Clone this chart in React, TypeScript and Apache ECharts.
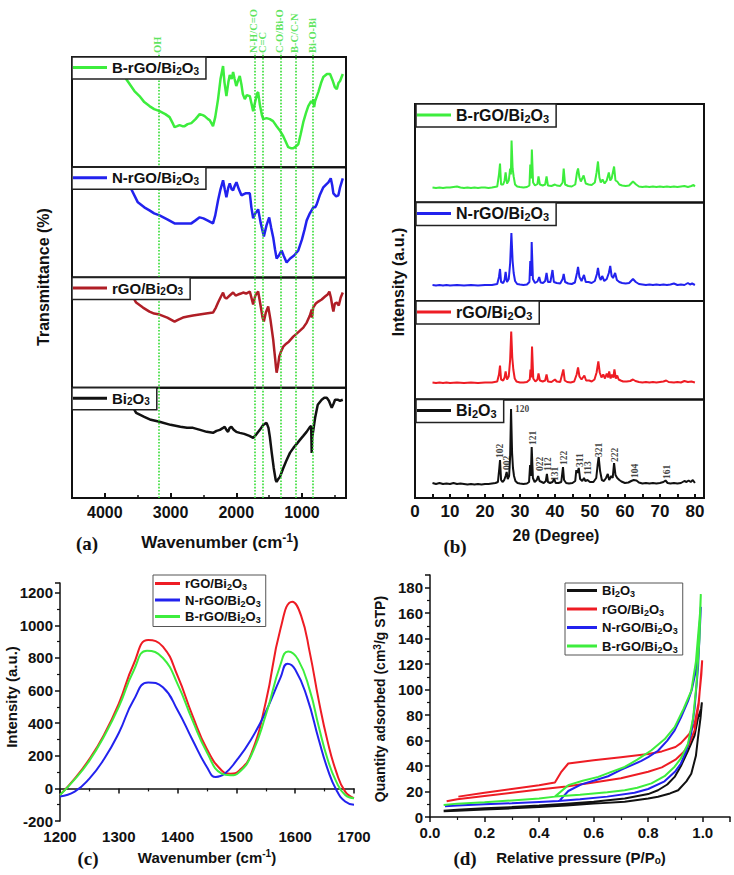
import { useEffect, useRef } from 'react';
import * as echarts from 'echarts';

// ---------------- data ----------------
// (a) FTIR — [wavenumber (cm-1), relative transmittance]
const ftirBands = [3180, 1720, 1590, 1320, 1100, 830];
const ftirBandLabels = ['OH', 'N-H/C=O', 'C=C', 'C-O/Bi-O', 'B-C/C-N', 'Bi-O-Bi'];
const ftirMajorTicks = [4000, 3000, 2000, 1000];
const ftirMinorTicks = [3500, 2500, 1500, 500];

const ftirB = [[3800,105],[3676,88],[3550,76],[3473,71],[3400,65],[3321,61],[3250,58],[3168,56],[3080,53],[3015,50],[2960,43],[2939,40],[2900,41],[2863,42],[2820,41],[2786,41],[2740,43],[2684,44],[2620,48],[2557,53],[2510,52],[2481,51],[2430,48],[2405,47],[2370,43],[2354,41],[2320,50],[2277,68],[2240,88],[2201,101],[2180,85],[2150,71],[2120,85],[2099,92],[2070,88],[2048,95],[2025,88],[2000,81],[1975,86],[1947,91],[1920,82],[1900,73],[1870,68],[1840,72],[1794,71],[1770,64],[1743,56],[1710,66],[1680,74],[1667,75],[1640,62],[1610,52],[1590,48],[1540,49],[1489,48],[1440,46],[1386,41],[1340,37],[1285,31],[1250,26],[1209,20],[1170,19],[1133,19],[1090,21],[1056,23],[1020,33],[980,45],[940,54],[904,61],[860,66],[840,64],[827,68],[815,60],[800,66],[751,75],[710,84],[675,90],[620,93],[573,93],[530,86],[500,80],[470,78],[445,84],[420,86],[379,93]];
const ftirN = [[3650,95],[3498,75],[3400,70],[3321,67],[3250,64],[3168,62],[3050,58],[2939,54],[2850,54],[2750,54],[2684,54],[2620,57],[2557,60],[2500,59],[2440,57],[2354,54],[2320,62],[2277,77],[2240,88],[2201,97],[2175,88],[2150,80],[2120,90],[2099,94],[2070,88],[2048,87],[2020,92],[1997,95],[1960,88],[1921,82],[1860,84],[1794,84],[1770,70],[1743,59],[1710,64],[1667,68],[1630,55],[1580,41],[1540,52],[1499,60],[1470,50],[1438,40],[1410,28],[1386,19],[1350,22],[1310,27],[1280,22],[1234,15],[1180,19],[1120,22],[1056,27],[1000,38],[960,48],[928,57],[880,64],[827,70],[800,70],[776,73],[730,82],[675,90],[630,93],[598,95],[562,99],[540,92],[522,84],[480,81],[446,82],[420,90],[379,99]];
const ftirR = [[3650,100],[3524,85],[3420,80],[3321,76],[3250,74],[3168,73],[3050,70],[2939,66],[2880,68],[2812,70],[2740,71],[2659,72],[2560,73],[2460,74],[2354,75],[2310,80],[2277,85],[2240,90],[2201,95],[2175,90],[2150,89],[2100,92],[2048,95],[2010,92],[1973,93],[1930,94],[1896,95],[1850,94],[1794,96],[1770,90],[1743,83],[1710,92],[1667,96],[1630,82],[1600,70],[1580,66],[1550,75],[1514,81],[1480,68],[1438,48],[1410,30],[1395,20],[1386,15],[1365,22],[1346,31],[1320,36],[1285,41],[1240,44],[1200,46],[1133,51],[1080,54],[1030,57],[980,60],[928,65],[880,72],[852,78],[848,70],[830,80],[790,84],[751,86],[700,88],[649,91],[610,93],[583,96],[560,90],[535,80],[522,76],[500,84],[470,85],[440,82],[410,90],[379,95]];
const ftirBi = [[3650,100],[3524,85],[3400,81],[3300,78],[3168,76],[3000,73],[2850,71],[2750,70],[2659,70],[2550,68],[2450,66],[2354,65],[2300,67],[2250,68],[2200,70],[2176,71],[2150,68],[2125,66],[2100,70],[2074,71],[2040,68],[2000,66],[1947,65],[1880,64],[1800,62],[1743,60],[1700,63],[1641,68],[1590,73],[1539,75],[1510,70],[1489,61],[1460,45],[1430,30],[1400,18],[1386,16],[1360,19],[1336,21],[1290,29],[1240,37],[1183,45],[1130,50],[1080,54],[1031,58],[980,62],[930,66],[878,71],[860,72],[852,45],[845,60],[827,68],[800,80],[760,93],[700,98],[660,100],[623,100],[590,97],[560,92],[547,90],[520,94],[496,98],[450,98],[420,97],[379,98]];

// (b) XRD — [2θ (degree), intensity]
const xrdB = [[5,15],[6,14.5],[7,15],[8,14.5],[9,15],[10,15],[11,15.5],[12,16],[13,15],[14,14.5],[15,15],[16,14.5],[17,15],[18,14.5],[19,15],[20,15],[21,14.5],[22,15],[23.5,16],[24.0,28],[24.3,39],[24.6,18],[25.2,18],[25.6,22],[25.9,30],[26.3,19],[26.8,22],[27.2,34],[27.4,28],[27.6,62],[27.9,34],[28.2,26],[28.6,18],[29.2,16],[30,15.5],[31,15],[32,15.5],[32.7,17],[32.95,38],[33.2,24],[33.4,53],[33.75,20],[34.3,17],[35,18.5],[35.3,26],[35.7,18],[36.5,17],[37.2,18],[37.6,26],[38,17],[39,16.5],[40,18],[40.5,17],[41.5,16.5],[42.2,20],[42.5,34],[42.9,18],[43.8,16.5],[44.8,16],[45.8,18],[46.3,30],[46.6,34],[47,25],[47.4,21],[48.2,27],[48.8,19],[49.6,18],[50.5,17.5],[51.4,20],[51.9,30],[52.3,41],[52.7,25],[53.1,20],[53.6,23],[54.2,19],[54.8,22],[55.4,30],[55.8,22],[56.2,24],[56.9,36],[57.3,22],[57.8,21],[58.4,18],[59.2,17],[60.2,16.5],[61.2,17],[62.3,21],[63.2,18],[64,16],[65,15.5],[66,16],[67,15.5],[68,16],[69,15.5],[70,16],[71,15.5],[72,16],[73,15.5],[74,16],[75,15.5],[76,16],[77,16.5],[78,15.5],[79,16.5],[79.6,17.5],[80,16]];
const xrdN = [[5,16],[6,15.5],[7,16],[8,15.5],[9,16],[10,15.5],[12,16],[14,15.5],[16,16],[18,15.5],[20,16],[22,16],[23.5,17],[24.0,24],[24.3,32],[24.6,19],[25.2,18],[25.6,21],[25.9,29],[26.3,19],[26.8,22],[27.2,38],[27.55,68],[27.9,40],[28.2,28],[28.6,20],[29.2,17],[30,16.5],[31,16],[32,16.5],[32.7,19],[32.95,40],[33.2,25],[33.35,59],[33.7,22],[34.3,18],[35,19.5],[35.5,24],[35.9,18.5],[36.6,18],[37.2,20],[37.6,28],[38,19],[38.7,19],[39.3,31],[39.7,19],[40.5,18],[41.5,17.5],[42.2,22],[42.5,27],[42.9,19],[43.8,17.5],[44.8,17],[45.7,18.5],[46.3,28],[46.6,34],[47,24],[47.6,20],[48.3,26],[48.8,19],[49.6,19],[50.5,18],[51.4,20],[52,27],[52.3,33],[52.7,24],[53.1,21],[53.5,25],[54.1,20],[54.8,22],[55.4,28],[55.8,35],[56.2,25],[56.6,23],[57.2,28],[57.7,21],[58.4,19],[59.2,18],[60.2,17.5],[61.2,18],[62.3,22],[63.1,19],[64,17],[65,16.5],[66,16],[67,16.5],[68,16],[69,16.5],[70,16],[71,16.5],[72,16],[73,16.5],[74,17.5],[75,16],[76,16.5],[77,16],[78,18],[78.6,16.5],[79.2,17.5],[80,16]];
const xrdR = [[5,17],[6,16.5],[7,17],[8,16.5],[9,17],[10,16.5],[12,17],[14,16.5],[16,17],[18,16.5],[20,17],[22,17],[23.5,18],[24.0,25],[24.3,34],[24.6,20],[25.2,19],[25.6,22],[25.9,28],[26.3,20],[26.8,23],[27.2,40],[27.5,68],[27.8,42],[28.1,30],[28.5,21],[29,18],[30,17],[31,17],[32,17.5],[32.8,20],[33.0,30],[33.2,22],[33.45,53],[33.8,21],[34.4,18],[35,20],[35.3,26],[35.7,19],[36.5,18],[37.2,19],[37.6,25],[38,18],[39,17.5],[40,20],[40.5,18],[41.5,17.5],[42.4,30],[42.8,19],[43.5,17.5],[44.5,17],[45.5,18],[46.2,25],[46.6,32],[47,23],[47.6,20],[48.4,24],[48.9,19],[49.8,19],[50.5,18],[51.3,20],[51.9,27],[52.4,38],[52.8,27],[53.3,22],[53.8,25],[54.3,21],[54.8,26],[55.2,22],[55.5,28],[55.9,21],[56.3,25],[56.7,22],[57,30],[57.4,21],[57.8,24],[58.2,20],[58.8,19],[59.5,18],[60.5,18],[61.5,18.5],[62.3,20],[63,18.5],[64,17.5],[65,17],[66,17.5],[67,17],[68,17.5],[69,17],[70,17.5],[71,18],[71.8,19],[72.5,17.5],[74,17],[75,17.5],[76,17],[77,18.5],[78,17.5],[79,18],[80,17]];
const xrdBi = [[5,15],[6,14],[7,15],[8,14],[9,14.5],[10,14],[11,15],[12,14],[13,14.5],[14,14],[15,13.5],[16,14],[17,13.5],[18,14],[19,13.5],[20,14],[21,14],[22,14.5],[23,15],[23.7,16],[24.1,30],[24.3,38],[24.6,18],[25.0,16],[25.5,18],[25.9,22],[26.2,26],[26.5,19],[26.9,22],[27.2,42],[27.45,89],[27.75,45],[28.0,30],[28.3,22],[28.7,17],[29.3,15],[30,14.5],[31,14],[32,14.5],[32.6,16],[32.9,33],[33.1,22],[33.35,51],[33.7,20],[34.2,16],[34.8,18],[35.2,22],[35.6,17],[36.2,16],[36.8,15],[37.4,17],[37.7,24],[38.0,16],[38.6,15],[39.3,16],[39.8,19],[40.2,15],[41,15],[41.8,16],[42.3,31],[42.6,18],[43.2,15],[44,14.5],[45,15],[45.8,17],[46.1,28],[46.4,25],[46.8,30],[47.2,19],[47.8,17],[48.3,20],[48.7,17],[49.3,18],[50,16],[51,16],[51.8,20],[52.2,33],[52.5,41],[52.9,27],[53.4,18],[54,17],[54.6,20],[55.1,24],[55.5,18],[56.1,22],[56.5,20],[56.9,35],[57.3,23],[57.8,20],[58.4,18],[59,16.5],[60,15],[61,15.5],[61.8,17],[62.5,18],[63.3,17.5],[64,15.5],[65,14.5],[66,15],[67,14.5],[68,15],[69,14.5],[70,15],[71,16],[71.6,17.5],[72.2,15],[73,14.5],[74,15],[75,14.5],[76,15],[77,17],[77.6,16],[78.2,17.5],[78.8,16],[79.4,18],[80,15]];
const xrdTicks = [0, 10, 20, 30, 40, 50, 60, 70, 80];
const hklLabels = ['102', '002', '120', '121', '022', '112', '131', '122', '311', '113', '321', '222', '104', '161'];
const hklTheta = [24.3, 26.4, 28.6, 33.7, 35.7, 37.9, 40.0, 42.6, 47.1, 49.5, 52.6, 57.1, 62.9, 71.9];
const hklLevel = [40, 28, 89, 53, 27, 27, 17, 33, 31, 23, 41, 36, 20, 19];

// (c) Raman — [wavenumber, intensity]
const ramanR = [[1200,-40],[1225,60],[1250,180],[1275,330],[1300,520],[1325,760],[1350,910],[1375,870],[1400,690],[1425,450],[1450,240],[1475,110],[1490,90],[1505,110],[1525,210],[1550,530],[1575,980],[1595,1145],[1610,1060],[1625,830],[1640,540],[1655,290],[1670,100],[1685,-20],[1700,-60]];
const ramanN = [[1200,-50],[1225,-20],[1250,60],[1275,180],[1300,340],[1325,540],[1350,650],[1375,620],[1400,480],[1425,300],[1450,130],[1465,70],[1480,90],[1500,170],[1525,300],[1550,470],[1575,680],[1587,765],[1600,730],[1620,560],[1640,300],[1655,120],[1670,-10],[1685,-80],[1700,-100]];
const ramanB = [[1200,-40],[1225,55],[1250,170],[1275,320],[1300,500],[1325,720],[1348,845],[1375,800],[1400,640],[1425,420],[1450,220],[1475,90],[1490,80],[1505,100],[1525,200],[1550,450],[1575,760],[1588,840],[1605,790],[1625,600],[1640,380],[1655,180],[1670,40],[1685,-40],[1700,-60]];

// (d) N2 sorption isotherms — [P/Po, quantity adsorbed], adsorption then desorption
const betBi = [[0.05,4.5],[0.1,5],[0.2,5.8],[0.3,6.8],[0.4,7.8],[0.5,9],[0.6,10.5],[0.714,12],[0.8,14.5],[0.836,15.9],[0.88,18.5],[0.91,21],[0.94,28],[0.958,34],[0.975,48],[0.983,63],[0.992,78],[0.997,90],[0.994,85],[0.983,78],[0.97,64],[0.946,52],[0.92,40],[0.897,31.5],[0.87,25.5],[0.836,21],[0.8,18],[0.714,14.6],[0.6,12],[0.5,10.5],[0.4,9],[0.3,7.8],[0.2,6.8],[0.1,5.6],[0.05,5]];
const betR = [[0.061,12.4],[0.1,14],[0.2,16.5],[0.3,19],[0.4,21.5],[0.5,24],[0.6,27],[0.7,30.5],[0.8,35.5],[0.85,39],[0.9,45],[0.93,51],[0.95,57],[0.97,68],[0.985,88],[0.995,115],[0.998,123],[0.995,112],[0.985,90],[0.97,73],[0.95,65],[0.92,58],[0.9,55],[0.85,51.5],[0.8,49.5],[0.7,47],[0.6,44.5],[0.507,42],[0.48,35],[0.458,27],[0.4,25],[0.3,22],[0.2,19],[0.104,16]];
const betN = [[0.055,8.5],[0.1,9],[0.2,10],[0.3,10.8],[0.4,11.8],[0.47,12.5],[0.55,14],[0.65,16],[0.75,19],[0.8,22],[0.86,28],[0.9,36],[0.92,42],[0.94,52],[0.958,66],[0.97,85],[0.983,118],[0.99,150],[0.993,165],[0.99,155],[0.977,117],[0.96,100],[0.946,91],[0.92,78],[0.897,68],[0.87,60],[0.836,52],[0.8,47],[0.775,44],[0.7,37],[0.653,32],[0.6,28.5],[0.555,25.6],[0.507,20.4],[0.476,13]];
const betB = [[0.05,9.4],[0.1,10.5],[0.2,11.5],[0.3,13],[0.4,14.5],[0.458,16],[0.55,17.5],[0.65,19.5],[0.714,21],[0.76,23],[0.812,26.4],[0.86,32],[0.897,39.5],[0.92,46],[0.946,57.5],[0.965,78],[0.977,104],[0.988,140],[0.993,175],[0.99,160],[0.975,122],[0.958,99],[0.93,85],[0.897,70.6],[0.86,61],[0.812,52.4],[0.76,45],[0.714,39.3],[0.66,35],[0.617,31.5],[0.56,28.5],[0.507,25],[0.458,16]];

// ---------------- styling ----------------
const SANS = '"Liberation Sans", Arial, Helvetica, sans-serif';
const SERIF = '"Liberation Serif", "Times New Roman", serif';
const INK = '#111111';
const GREEN = '#3ded3d';
const BLUE = '#2222ee';
const RED = '#ee1c24';
const DARKRED = '#b01e26';
const DOT = '#33dd33';

function chemRich(size: number, color = INK) {
  const lh = Math.round(size * 1.15);
  const sub = Math.round(size * 0.68);
  return {
    t: { fontFamily: SANS, fontWeight: 'bold', fontSize: size, color, lineHeight: lh },
    s: { fontFamily: SANS, fontWeight: 'bold', fontSize: sub, color, lineHeight: sub, verticalAlign: 'bottom' },
    u: { fontFamily: SANS, fontWeight: 'bold', fontSize: sub, color, lineHeight: sub, verticalAlign: 'top' },
  };
}
function chem(name: string) {
  return '{t|' + name.replace(/(\d)/g, '}{s|$1}{t|') + '}';
}
const shown = (n: string) => chem(n.split(':')[1]);
const plain = (v: number) => String(v);

const aLeft = 72, aWidth = 274, aTop0 = 57, aH = 110.25;
const bLeft = 415, bWidth = 289, bTop0 = 104, bH = 98.5;

export default function App() {
  const ref = useRef<HTMLDivElement>(null);
  useEffect(() => {
    if (!ref.current) return;
    const chart = echarts.init(ref.current, null, { renderer: 'svg', width: 734, height: 875 });

    const grids: any[] = [];
    const xAxes: any[] = [];
    const yAxes: any[] = [];
    const series: any[] = [];
    const legends: any[] = [];

    const hiddenX = (gi: number, min: number, max: number, inverse = false) => ({
      gridIndex: gi, type: 'value', min, max, inverse,
      axisLine: { show: false }, axisTick: { show: false }, axisLabel: { show: false }, splitLine: { show: false },
    });
    const hiddenY = (gi: number, min: number, max: number) => ({
      gridIndex: gi, type: 'value', min, max,
      axisLine: { show: false }, axisTick: { show: false }, axisLabel: { show: false }, splitLine: { show: false },
    });
    const line = (name: string, idx: number, data: any, color: string, width: number, smooth: any = false) => ({
      type: 'line', name, xAxisIndex: idx, yAxisIndex: idx, data, showSymbol: false, symbol: 'none',
      smooth, color, lineStyle: { color, width }, itemStyle: { color }, z: 3,
    });
    const boxLegend = (name: string, left: number, top: number, size: number, iw: number) => ({
      left, top, data: [name], icon: 'rect', itemWidth: iw, itemHeight: 3, itemGap: 0,
      padding: [3, 7, 3, 1], borderColor: '#222', borderWidth: 1.5, backgroundColor: '#fff',
      selectedMode: false, formatter: shown, textStyle: { rich: chemRich(size) }, z: 10,
    });

    // ---- (a) FTIR: grids 0..3 ----
    const aSeries = [
      ['a:B-rGO/Bi2O3', ftirB, GREEN],
      ['a:N-rGO/Bi2O3', ftirN, BLUE],
      ['a:rGO/Bi2O3', ftirR, DARKRED],
      ['a:Bi2O3', ftirBi, INK],
    ];
    aSeries.forEach(([name, data, color]: any, i) => {
      const top = aTop0 + i * aH;
      grids.push({ left: aLeft, top, width: aWidth, height: aH, show: true, borderColor: INK, borderWidth: 2, backgroundColor: 'transparent' });
      if (i < 3) xAxes.push(hiddenX(i, 330, 4500, true));
      else xAxes.push({
        gridIndex: i, type: 'value', min: 330, max: 4500, inverse: true,
        axisLine: { show: false }, splitLine: { show: false },
        axisTick: { show: true, inside: true, length: 5, lineStyle: { color: INK, width: 2 }, customValues: ftirMajorTicks },
        axisLabel: { show: true, customValues: ftirMajorTicks, formatter: plain, margin: 6, color: INK, fontFamily: SANS, fontWeight: 'bold', fontSize: 16 },
      });
      yAxes.push(hiddenY(i, 0, 110));
      series.push(line(name, i, data, color, 2.5));
      legends.push(boxLegend(name, aLeft, top, 15, 34));
    });

    // ---- (a) overlay grid 4: band markers ----
    grids.push({ left: aLeft, top: 53, width: aWidth, height: 498 - 53, show: false });
    xAxes.push(hiddenX(4, 330, 4500, true));
    yAxes.push(hiddenY(4, 0, 1));
    series.push({
      type: 'scatter', xAxisIndex: 4, yAxisIndex: 4, symbolSize: 0, clip: false, z: 5,
      data: ftirBands.map((w, i) => ({ value: [w, 1], name: ftirBandLabels[i] })),
      label: {
        show: true, formatter: '{b}', position: [0, 0], rotate: 90, align: 'left', verticalAlign: 'middle',
        color: DOT, fontFamily: SERIF, fontWeight: 'bold', fontSize: 10.5, offset: [0, -1],
      },
      markLine: {
        silent: true, symbol: 'none', label: { show: false },
        lineStyle: { type: 'dotted', color: DOT, width: 1.6 },
        data: ftirBands.map((w) => ({ xAxis: w })),
      },
    });

    // ---- (b) XRD: grids 5..8 ----
    const bSeries = [
      ['b:B-rGO/Bi2O3', xrdB, GREEN],
      ['b:N-rGO/Bi2O3', xrdN, BLUE],
      ['b:rGO/Bi2O3', xrdR, RED],
      ['b:Bi2O3', xrdBi, INK],
    ];
    bSeries.forEach(([name, data, color]: any, k) => {
      const gi = 5 + k;
      const top = bTop0 + k * bH;
      grids.push({ left: bLeft, top, width: bWidth, height: bH, show: true, borderColor: INK, borderWidth: 2, backgroundColor: 'transparent' });
      if (k < 3) xAxes.push(hiddenX(gi, 0, 82.6));
      else xAxes.push({
        gridIndex: gi, type: 'value', min: 0, max: 82.6, interval: 5,
        axisLine: { show: false }, splitLine: { show: false },
        axisTick: { show: true, inside: true, length: 4, lineStyle: { color: INK, width: 2 } },
        axisLabel: {
          show: true, showMaxLabel: false, margin: 5, color: INK, fontFamily: SANS, fontWeight: 'bold', fontSize: 17,
          formatter: (v: number) => (xrdTicks.includes(v) ? String(v) : ''),
        },
      });
      yAxes.push(hiddenY(gi, 0, 98.5));
      series.push(line(name, gi, data, color, 2));
      legends.push(boxLegend(name, bLeft + 1, top, 16, 34));
    });
    series.push({
      type: 'scatter', xAxisIndex: 8, yAxisIndex: 8, symbolSize: 0, clip: false, z: 5,
      data: hklLabels.map((t, i) => ({
        value: [hklTheta[i], hklLevel[i]], name: t,
        label: t === '120' ? { rotate: 0, align: 'left', verticalAlign: 'middle' } : {},
      })),
      label: {
        show: true, formatter: '{b}', position: [0, 0], rotate: 90, align: 'left', verticalAlign: 'middle',
        color: INK, fontFamily: SERIF, fontWeight: 'bold', fontSize: 9.5,
      },
    });

    // ---- (c) Raman: grid 9 ----
    grids.push({ left: 60, top: 583, width: 294, height: 238 });
    const axisBase = {
      axisLine: { show: true, lineStyle: { color: INK, width: 1.5 } },
      axisTick: { show: true, length: 5, lineStyle: { color: INK, width: 1.5 } },
      minorTick: { show: true, splitNumber: 2, length: 3, lineStyle: { color: INK, width: 1.2 } },
      splitLine: { show: false },
    };
    const tickFont = { color: INK, fontFamily: SANS, fontWeight: 'bold', fontSize: 15 };
    xAxes.push({ gridIndex: 9, type: 'value', min: 1200, max: 1700, interval: 100, ...axisBase, axisLabel: { ...tickFont, margin: 8, formatter: plain } });
    yAxes.push({ gridIndex: 9, type: 'value', min: -200, max: 1260, interval: 200, ...axisBase, axisLabel: { ...tickFont, margin: 7, showMaxLabel: false, formatter: plain } });
    series.push(line('c:rGO/Bi2O3', 9, ramanR, RED, 2, 0.5));
    series.push(line('c:N-rGO/Bi2O3', 9, ramanN, BLUE, 2, 0.5));
    series.push(line('c:B-rGO/Bi2O3', 9, ramanB, GREEN, 2, 0.5));
    legends.push({
      left: 153, top: 575, orient: 'vertical', data: ['c:rGO/Bi2O3', 'c:N-rGO/Bi2O3', 'c:B-rGO/Bi2O3'],
      icon: 'rect', itemWidth: 25, itemHeight: 3, itemGap: 2, padding: [2, 5, 2, 2],
      borderColor: '#555', borderWidth: 1, backgroundColor: '#fff', selectedMode: false,
      formatter: shown, textStyle: { rich: { ...chemRich(13), t: { ...chemRich(13).t, lineHeight: 16 } } },
    });

    // ---- (d) sorption: grid 10 ----
    grids.push({ left: 430, top: 575, width: 300, height: 242 });
    xAxes.push({ gridIndex: 10, type: 'value', min: 0, max: 1.1, interval: 0.2, ...axisBase,
      axisLabel: { ...tickFont, margin: 8, showMaxLabel: false, formatter: (v: number) => v.toFixed(1) } });
    yAxes.push({ gridIndex: 10, type: 'value', min: 0, max: 190, interval: 20, ...axisBase,
      axisLabel: { ...tickFont, margin: 7, showMaxLabel: false, formatter: plain } });
    series.push(line('d:Bi2O3', 10, betBi, INK, 2));
    series.push(line('d:rGO/Bi2O3', 10, betR, RED, 2));
    series.push(line('d:N-rGO/Bi2O3', 10, betN, BLUE, 2));
    series.push(line('d:B-rGO/Bi2O3', 10, betB, GREEN, 2));
    legends.push({
      left: 565, top: 583, orient: 'vertical', data: ['d:Bi2O3', 'd:rGO/Bi2O3', 'd:N-rGO/Bi2O3', 'd:B-rGO/Bi2O3'],
      icon: 'rect', itemWidth: 30, itemHeight: 3, itemGap: 4, padding: [1, 5, 1, 2],
      borderColor: '#555', borderWidth: 1, backgroundColor: '#fff', selectedMode: false,
      formatter: shown, textStyle: { rich: { ...chemRich(13), t: { ...chemRich(13).t, lineHeight: 16 } } },
    });

    // minor ticks for (a) bottom axis (index 11)
    xAxes.push({
      gridIndex: 3, type: 'value', min: 330, max: 4500, inverse: true, position: 'bottom',
      axisLine: { show: false }, splitLine: { show: false }, axisLabel: { show: false },
      axisTick: { show: true, inside: true, length: 3, lineStyle: { color: INK, width: 1.5 }, customValues: ftirMinorTicks },
    });

    const txt = (text: string, x: number, y: number, size: number, opts: any = {}) => ({
      type: 'text', x, y, rotation: opts.rot || 0, z: 20,
      style: {
        text, fill: INK, align: 'center', verticalAlign: 'middle',
        fontFamily: opts.serif ? SERIF : SANS, fontWeight: 'bold', fontSize: size,
        rich: opts.rich ? chemRich(size) : undefined,
      },
    });

    chart.setOption({
      animation: false,
      backgroundColor: '#ffffff',
      grid: grids,
      xAxis: xAxes,
      yAxis: yAxes,
      legend: legends,
      series,
      graphic: [
        txt('Transmittance (%)', 43, 277, 16, { rot: Math.PI / 2 }),
        txt('{t|Wavenumber (cm}{u|-1}{t|)}', 220, 542, 17, { rich: true }),
        txt('(a)', 87, 543, 19, { serif: true }),
        txt('Intensity (a.u.)', 398, 282, 16, { rot: Math.PI / 2 }),
        txt('2θ (Degree)', 556, 535, 16),
        txt('(b)', 455, 546, 19, { serif: true }),
        txt('Intensity (a.u.)', 11, 697, 15, { rot: Math.PI / 2 }),
        txt('{t|Wavenumber (cm}{u|-1}{t|)}', 207, 857, 15, { rich: true }),
        txt('(c)', 88, 858, 19, { serif: true }),
        txt('{t|Quantity adsorbed (cm}{u|3}{t|/g STP)}', 380, 699, 14, { rot: Math.PI / 2, rich: true }),
        txt('{t|Relative pressure (P/P}{s|o}{t|)}', 581, 857, 15, { rich: true }),
        txt('(d)', 465, 858, 19, { serif: true }),
      ],
    });
    return () => chart.dispose();
  }, []);
  return <div ref={ref} style={{ position: 'absolute', left: 0, top: 0, width: 734, height: 875, background: '#fff' }} />;
}
